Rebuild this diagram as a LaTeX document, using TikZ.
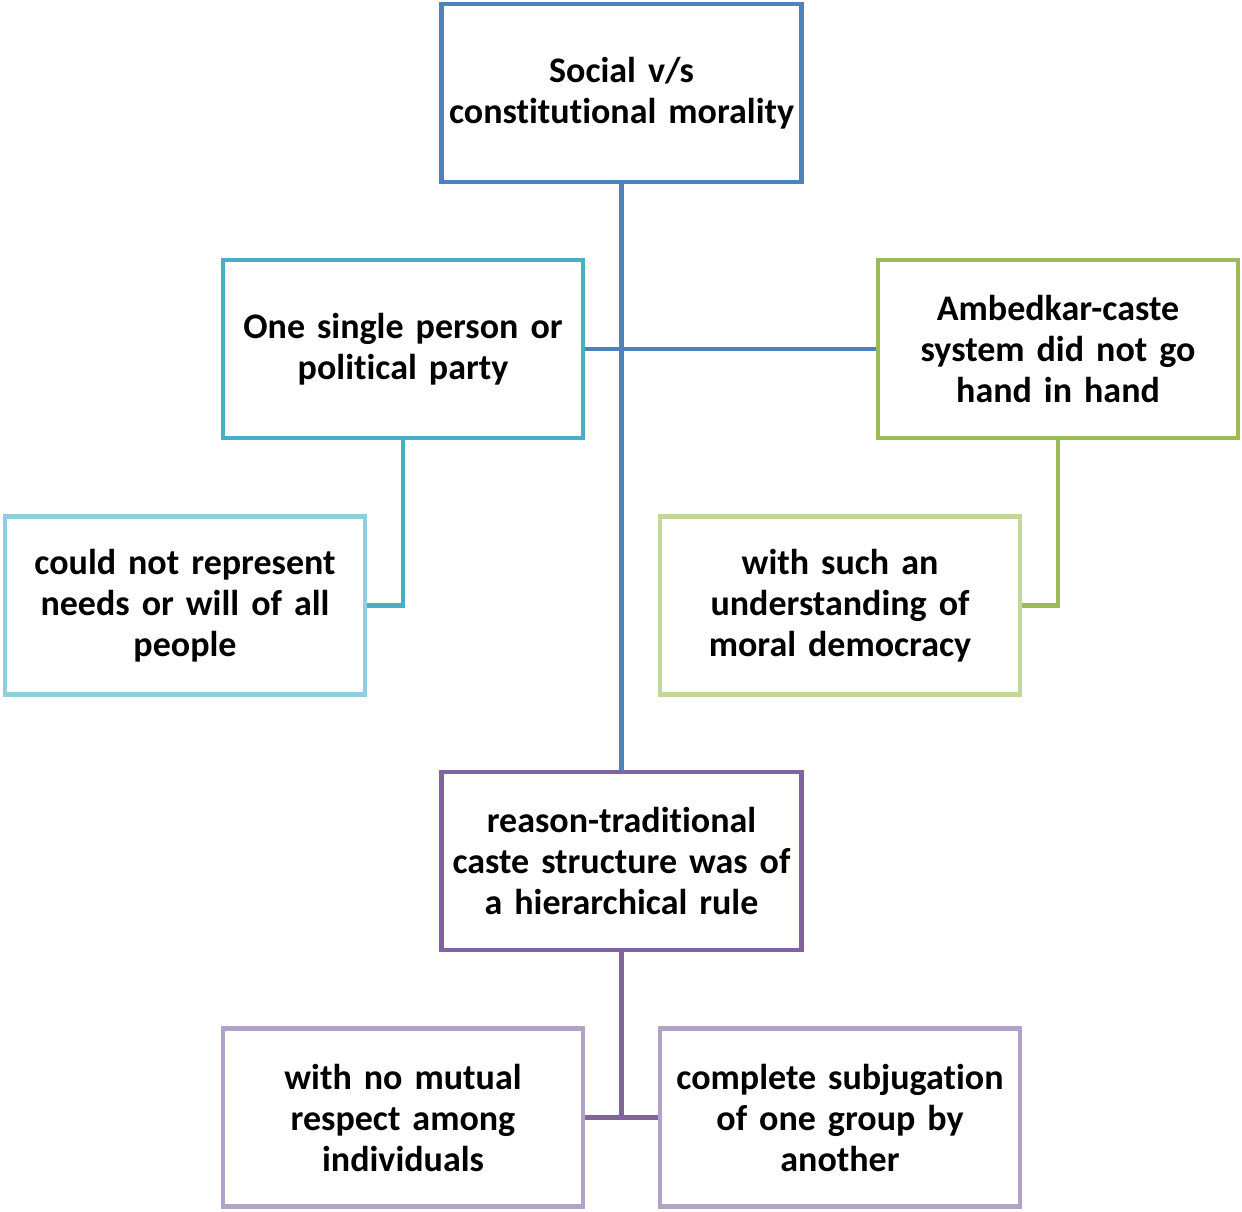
\documentclass[tikz,border=0pt]{standalone}
\usepackage{fontspec}
\setmainfont[Ligatures=NoCommon]{Carlito}
\definecolor{cblue}{HTML}{4F81BD}
\definecolor{cteal}{HTML}{4BACC6}
\definecolor{cteall}{HTML}{92CDDC}
\definecolor{cgreen}{HTML}{9BBB59}
\definecolor{cgreenl}{HTML}{C3D69B}
\definecolor{cpurp}{HTML}{8064A2}
\definecolor{cpurpl}{HTML}{B3A2C7}
\tikzset{
  box/.style={draw, line width=4.5pt, fill=white, minimum width=360pt, minimum height=178pt, inner sep=1pt,
    align=center, font=\fontsize{36}{41}\selectfont\bfseries, text width=358pt},
  link/.style={line width=4.5pt}
}
\begin{document}
\begin{tikzpicture}[x=1pt,y=-1pt]
\useasboundingbox (0,0) rectangle (1242,1211);
\node[box, draw=cblue] (top) at (621.5,93) {Social v/s\\constitutional morality};
\node[box, draw=cteal] (l1) at (403,349) {One single person or\\political party};
\node[box, draw=cgreen] (r1) at (1058,349) {Ambedkar-caste\\system did not go\\hand in hand};
\node[box, draw=cteall] (l2) at (185,605.5) {could not represent\\needs or will of all\\people};
\node[box, draw=cgreenl] (r2) at (840,605.5) {with such an\\understanding of\\moral democracy};
\node[box, draw=cpurp] (mid) at (621.5,861) {reason-traditional\\caste structure was of\\a hierarchical rule};
\node[box, draw=cpurpl] (bl) at (403,1117.5) {with no mutual\\respect among\\individuals};
\node[box, draw=cpurpl] (br) at (840,1117.5) {complete subjugation\\of one group by\\another};
\draw[link, draw=cblue] (top.south) -- (mid.north);
\draw[link, draw=cblue] (l1.east) -- (r1.west);
\draw[link, draw=cteal] (l1.south) |- (l2.east);
\draw[link, draw=cgreen] (r1.south) |- (r2.east);
\draw[link, draw=cpurp] (mid.south) -- (mid.south |- bl.east);
\draw[link, draw=cpurp] (bl.east) -- (br.west);
\end{tikzpicture}
\end{document}
